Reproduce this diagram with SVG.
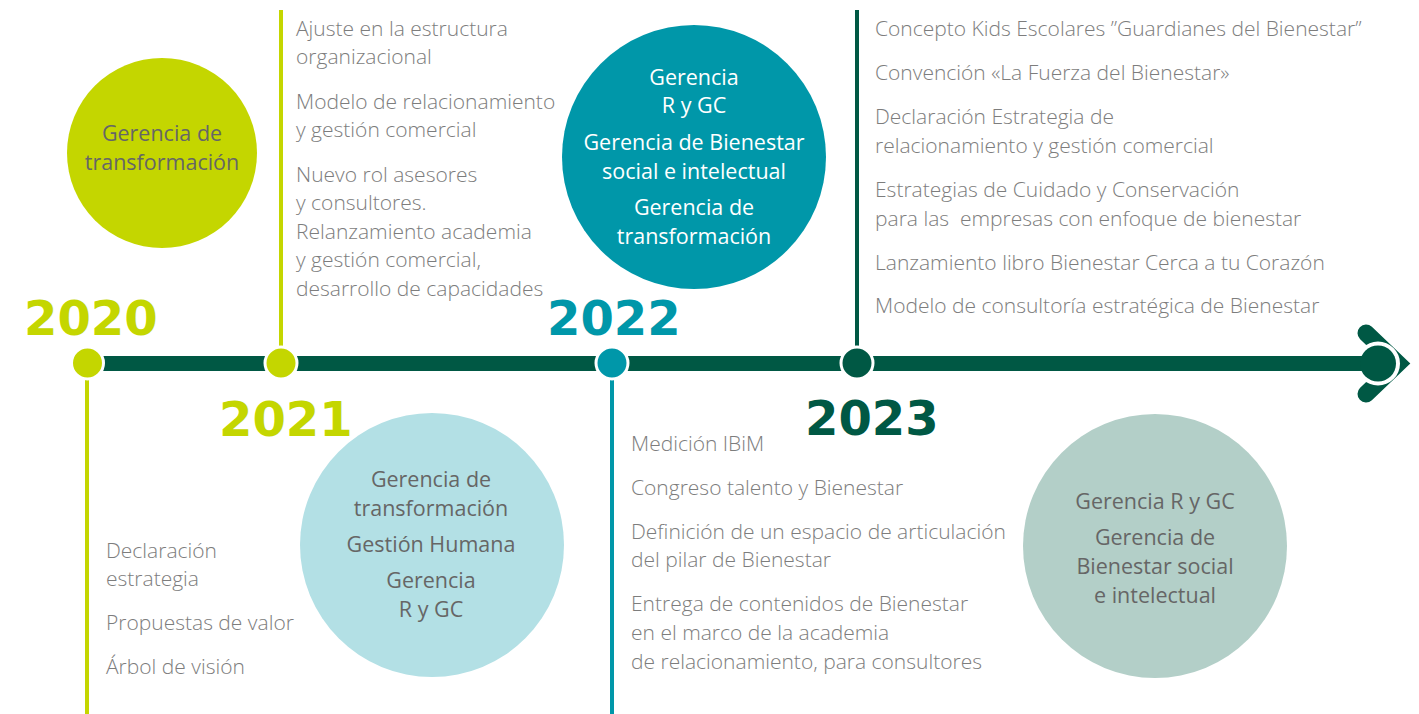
<svg xmlns="http://www.w3.org/2000/svg" width="1419" height="714" viewBox="0 0 1419 714">
<style>
.t{font-family:"Open Sans","Liberation Sans",sans-serif;font-weight:300;font-size:21px;fill:#7d7d7d}
.c{font-family:"Open Sans","Liberation Sans",sans-serif;font-weight:400;font-size:21.5px;fill:#666666;text-anchor:middle}
.cw{fill:#ffffff}
.yr{font-family:"DejaVu Sans","Liberation Sans",sans-serif;font-weight:bold;font-size:48px}
.dot{stroke:#ffffff;stroke-width:3}
</style>
<rect width="1419" height="714" fill="#ffffff"/>
<g id="connectors">
<line x1="87" y1="363" x2="87" y2="714" stroke="#c4d600" stroke-width="4"/>
<line x1="281" y1="10" x2="281" y2="363" stroke="#c4d600" stroke-width="4"/>
<line x1="612" y1="363" x2="612" y2="714" stroke="#0097a9" stroke-width="4"/>
<line x1="857" y1="10" x2="857" y2="363" stroke="#005844" stroke-width="4"/>
<line x1="95" y1="363.5" x2="1375" y2="363.5" stroke="#005844" stroke-width="15"/>
<polyline points="1366,333 1398,363.5 1366,394" fill="none" stroke="#005844" stroke-width="17" stroke-linecap="round" stroke-linejoin="miter"/>
<circle cx="1378" cy="363.5" r="22" fill="#ffffff"/>
<line x1="1350" y1="363.5" x2="1378" y2="363.5" stroke="#005844" stroke-width="15"/>
<circle cx="1378" cy="363.5" r="18" fill="#005844"/>
</g>
<g id="y2020">
<circle class="dot" cx="87.5" cy="363" r="16" fill="#c4d600"/>
<text class="yr" x="24" y="335" fill="#c4d600">2020</text>
<circle cx="162" cy="153" r="95" fill="#c4d600"/>
<text class="c" x="162" y="141">Gerencia de</text>
<text class="c" x="162" y="170">transformación</text>
<text class="t" x="106" y="558">Declaración</text>
<text class="t" x="106" y="586">estrategia</text>
<text class="t" x="106" y="630">Propuestas de valor</text>
<text class="t" x="106" y="674">Árbol de visión</text>
</g>
<g id="y2021">
<circle class="dot" cx="281" cy="363" r="16" fill="#c4d600"/>
<text class="yr" x="219" y="436" fill="#c4d600">2021</text>
<circle cx="432" cy="545" r="132" fill="#b3e0e5"/>
<text class="c" x="431" y="487">Gerencia de</text>
<text class="c" x="431" y="516">transformación</text>
<text class="c" x="431" y="552">Gestión Humana</text>
<text class="c" x="431" y="588">Gerencia</text>
<text class="c" x="431" y="617">R y GC</text>
<text class="t" x="296" y="36">Ajuste en la estructura</text>
<text class="t" x="296" y="64">organizacional</text>
<text class="t" x="296" y="109">Modelo de relacionamiento</text>
<text class="t" x="296" y="137">y gestión comercial</text>
<text class="t" x="296" y="182">Nuevo rol asesores</text>
<text class="t" x="296" y="210">y consultores.</text>
<text class="t" x="296" y="239">Relanzamiento academia</text>
<text class="t" x="296" y="267">y gestión comercial,</text>
<text class="t" x="296" y="296">desarrollo de capacidades</text>
</g>
<g id="y2022">
<circle class="dot" cx="612" cy="363" r="16" fill="#0097a9"/>
<text class="yr" x="547" y="335" fill="#0097a9">2022</text>
<circle cx="694" cy="157" r="132" fill="#0097a9"/>
<text class="c cw" x="694" y="85">Gerencia</text>
<text class="c cw" x="694" y="113">R y GC</text>
<text class="c cw" x="694" y="150">Gerencia de Bienestar</text>
<text class="c cw" x="694" y="179">social e intelectual</text>
<text class="c cw" x="694" y="215">Gerencia de</text>
<text class="c cw" x="694" y="244">transformación</text>
<text class="t" x="631" y="451">Medición IBiM</text>
<text class="t" x="631" y="495">Congreso talento y Bienestar</text>
<text class="t" x="631" y="539">Definición de un espacio de articulación</text>
<text class="t" x="631" y="567">del pilar de Bienestar</text>
<text class="t" x="631" y="611">Entrega de contenidos de Bienestar</text>
<text class="t" x="631" y="640">en el marco de la academia</text>
<text class="t" x="631" y="669">de relacionamiento, para consultores</text>
</g>
<g id="y2023">
<circle class="dot" cx="857" cy="363" r="16" fill="#005844"/>
<text class="yr" x="805" y="435" fill="#005844">2023</text>
<circle cx="1155" cy="546" r="132" fill="#b3cfc8"/>
<text class="c" x="1155" y="509">Gerencia R y GC</text>
<text class="c" x="1155" y="545">Gerencia de</text>
<text class="c" x="1155" y="574">Bienestar social</text>
<text class="c" x="1155" y="603">e intelectual</text>
<text class="t" x="875" y="36">Concepto Kids Escolares ”Guardianes del Bienestar”</text>
<text class="t" x="875" y="80">Convención «La Fuerza del Bienestar»</text>
<text class="t" x="875" y="124">Declaración Estrategia de</text>
<text class="t" x="875" y="153">relacionamiento y gestión comercial</text>
<text class="t" x="875" y="197">Estrategias de Cuidado y Conservación</text>
<text class="t" x="875" y="226" style="white-space:pre">para las  empresas con enfoque de bienestar</text>
<text class="t" x="875" y="270">Lanzamiento libro Bienestar Cerca a tu Corazón</text>
<text class="t" x="875" y="313">Modelo de consultoría estratégica de Bienestar</text>
</g>
</svg>
